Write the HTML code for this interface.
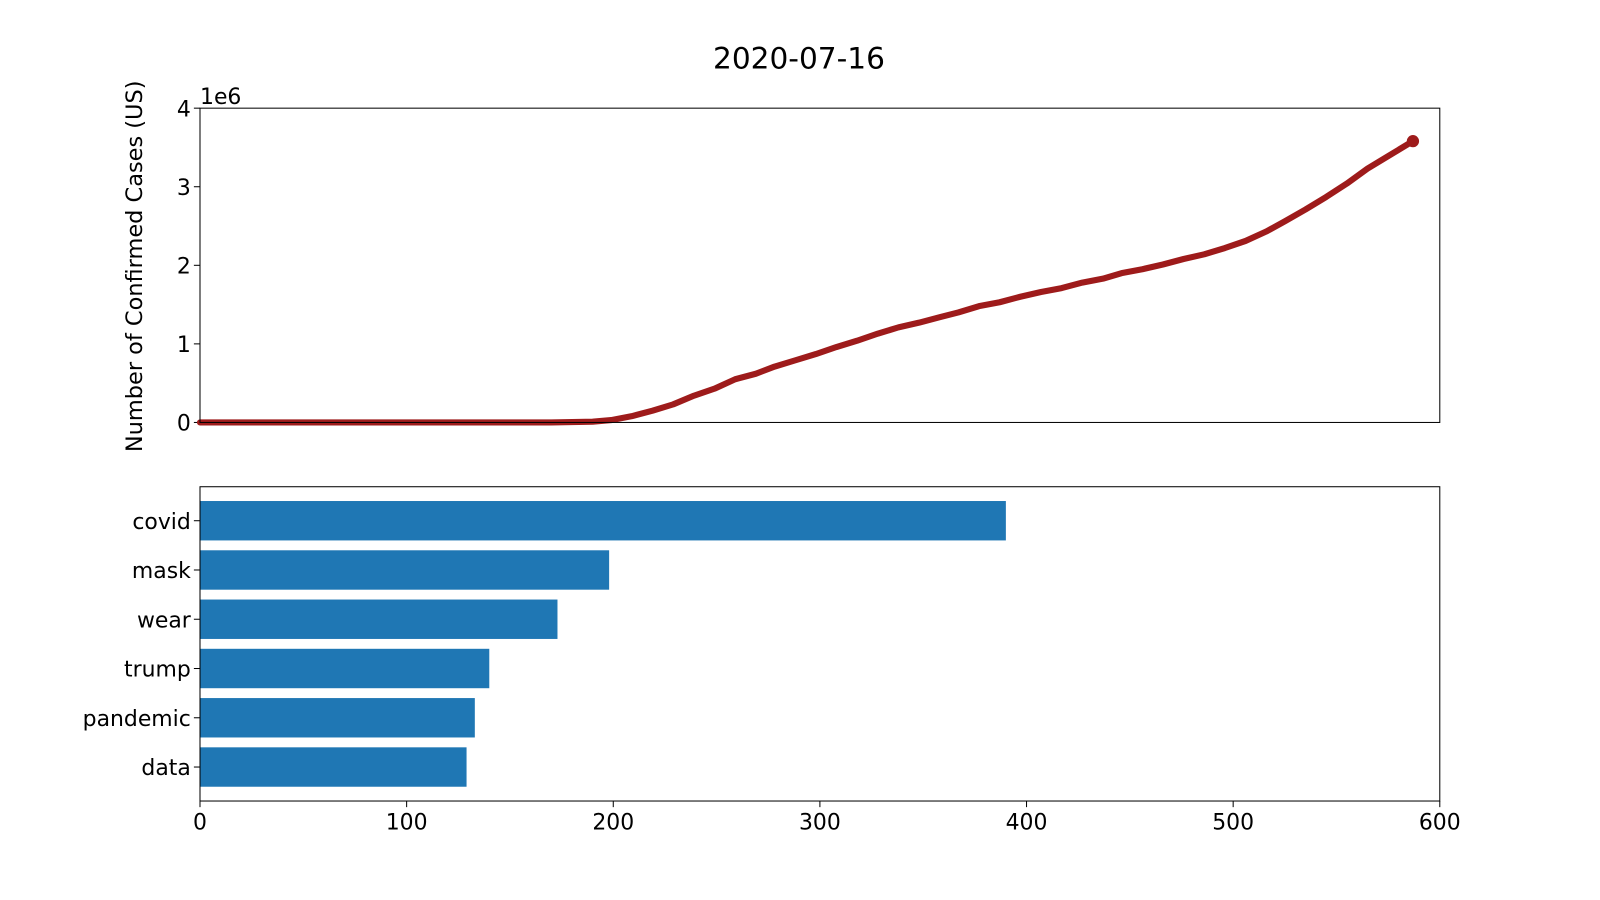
<!DOCTYPE html>
<html><head><meta charset="utf-8"><style>
body{margin:0;background:#fff;}
svg{display:block;font-family:"DejaVu Sans","Liberation Sans",sans-serif;}
</style></head><body>
<svg id="chart" width="1600" height="900" viewBox="0 0 1568 882">
<text x="783" y="67" font-size="29" text-anchor="middle">2020-07-16</text>
</svg>
<script>
const lineDays=[0,100,170,190,199,209,219,229,239,249,259,269,278,288,298,308,318,328,338,348,358,367,377,387,397,407,417,427,437,446,456,466,476,486,496,506,516,525,535,545,555,565,575,587];
const lineCases=[0,0,0,0.01,0.03,0.08,0.15,0.23,0.34,0.43,0.55,0.62,0.71,0.79,0.87,0.96,1.04,1.13,1.21,1.27,1.34,1.40,1.48,1.53,1.60,1.66,1.71,1.78,1.83,1.90,1.95,2.01,2.08,2.14,2.22,2.31,2.43,2.56,2.71,2.87,3.04,3.23,3.39,3.58];
const yTicks=[0,1,2,3,4];
const words=["covid","mask","wear","trump","pandemic","data"];
const counts=[390,198,173,140,133,129];
const xTicks=[0,100,200,300,400,500,600];

const NS="http://www.w3.org/2000/svg";
const svg=document.getElementById('chart');
function mk(t,a,p){const e=document.createElementNS(NS,t);for(const k in a)e.setAttribute(k,a[k]);(p||svg).appendChild(e);return e;}
const L=196,R=1411,T1=106,B1=414,T2=477,B2=785;
const FS=21.5;
const x=v=>L+(v/600)*(R-L);
const y1=v=>B1-(v/4)*(B1-T1);
const band=(B2-T2)/6.38;
function yc(i){return T2+band*(0.29+0.4)+band*i;}

let g=mk('g',{});


yTicks.forEach(t=>{
  const l=mk('line',{x1:L-6,x2:L,y1:y1(t),y2:y1(t),stroke:'#000','stroke-width':1},g);
  
  const tx=mk('text',{x:L-9,y:y1(t)+8,'font-size':FS,'text-anchor':'end'},g);tx.textContent=t;
  
});
let tm=mk('text',{x:L,y:T1-4,'font-size':FS},g);tm.textContent='1e6';

let yt=mk('text',{x:0,y:0,'font-size':22,'text-anchor':'middle',transform:`translate(139,${(T1+B1)/2+1}) rotate(-90)`},g);
yt.textContent='Number of Confirmed Cases (US)';

const pts=lineDays.map((d,i)=>x(d)+','+y1(lineCases[i])).join(' ');
let pl=mk('polyline',{points:pts,fill:'none',stroke:'#9e1b1b','stroke-width':6,'stroke-linejoin':'round','stroke-linecap':'round'},g);

const n=lineDays.length-1;
let dot=mk('circle',{cx:x(lineDays[n]),cy:y1(lineCases[n]),r:6,fill:'#9e1b1b'},g);

let f1=mk('rect',{x:L,y:T1,width:R-L,height:B1-T1,fill:'none',stroke:'#000','stroke-width':1},g);


let g2=mk('g',{});


words.forEach((w,i)=>{
  const c=yc(i),h=band*0.8;
  const r=mk('rect',{x:L,y:c-h/2,width:x(counts[i])-L,height:h,fill:'#1f77b4'},g2);
  
  mk('line',{x1:L-6,x2:L,y1:c,y2:c,stroke:'#000'},g2);
  const t=mk('text',{x:L-9,y:c+8,'font-size':FS,'text-anchor':'end'},g2);t.textContent=w;
  
});
xTicks.forEach(t=>{
  mk('line',{x1:x(t),x2:x(t),y1:B2,y2:B2+6,stroke:'#000'},g2);
  const tx=mk('text',{x:x(t),y:B2+28,'font-size':FS,'text-anchor':'middle'},g2);tx.textContent=t;
  
});
let f2=mk('rect',{x:L,y:T2,width:R-L,height:B2-T2,fill:'none',stroke:'#000','stroke-width':1},g2);

</script>
</body></html>
